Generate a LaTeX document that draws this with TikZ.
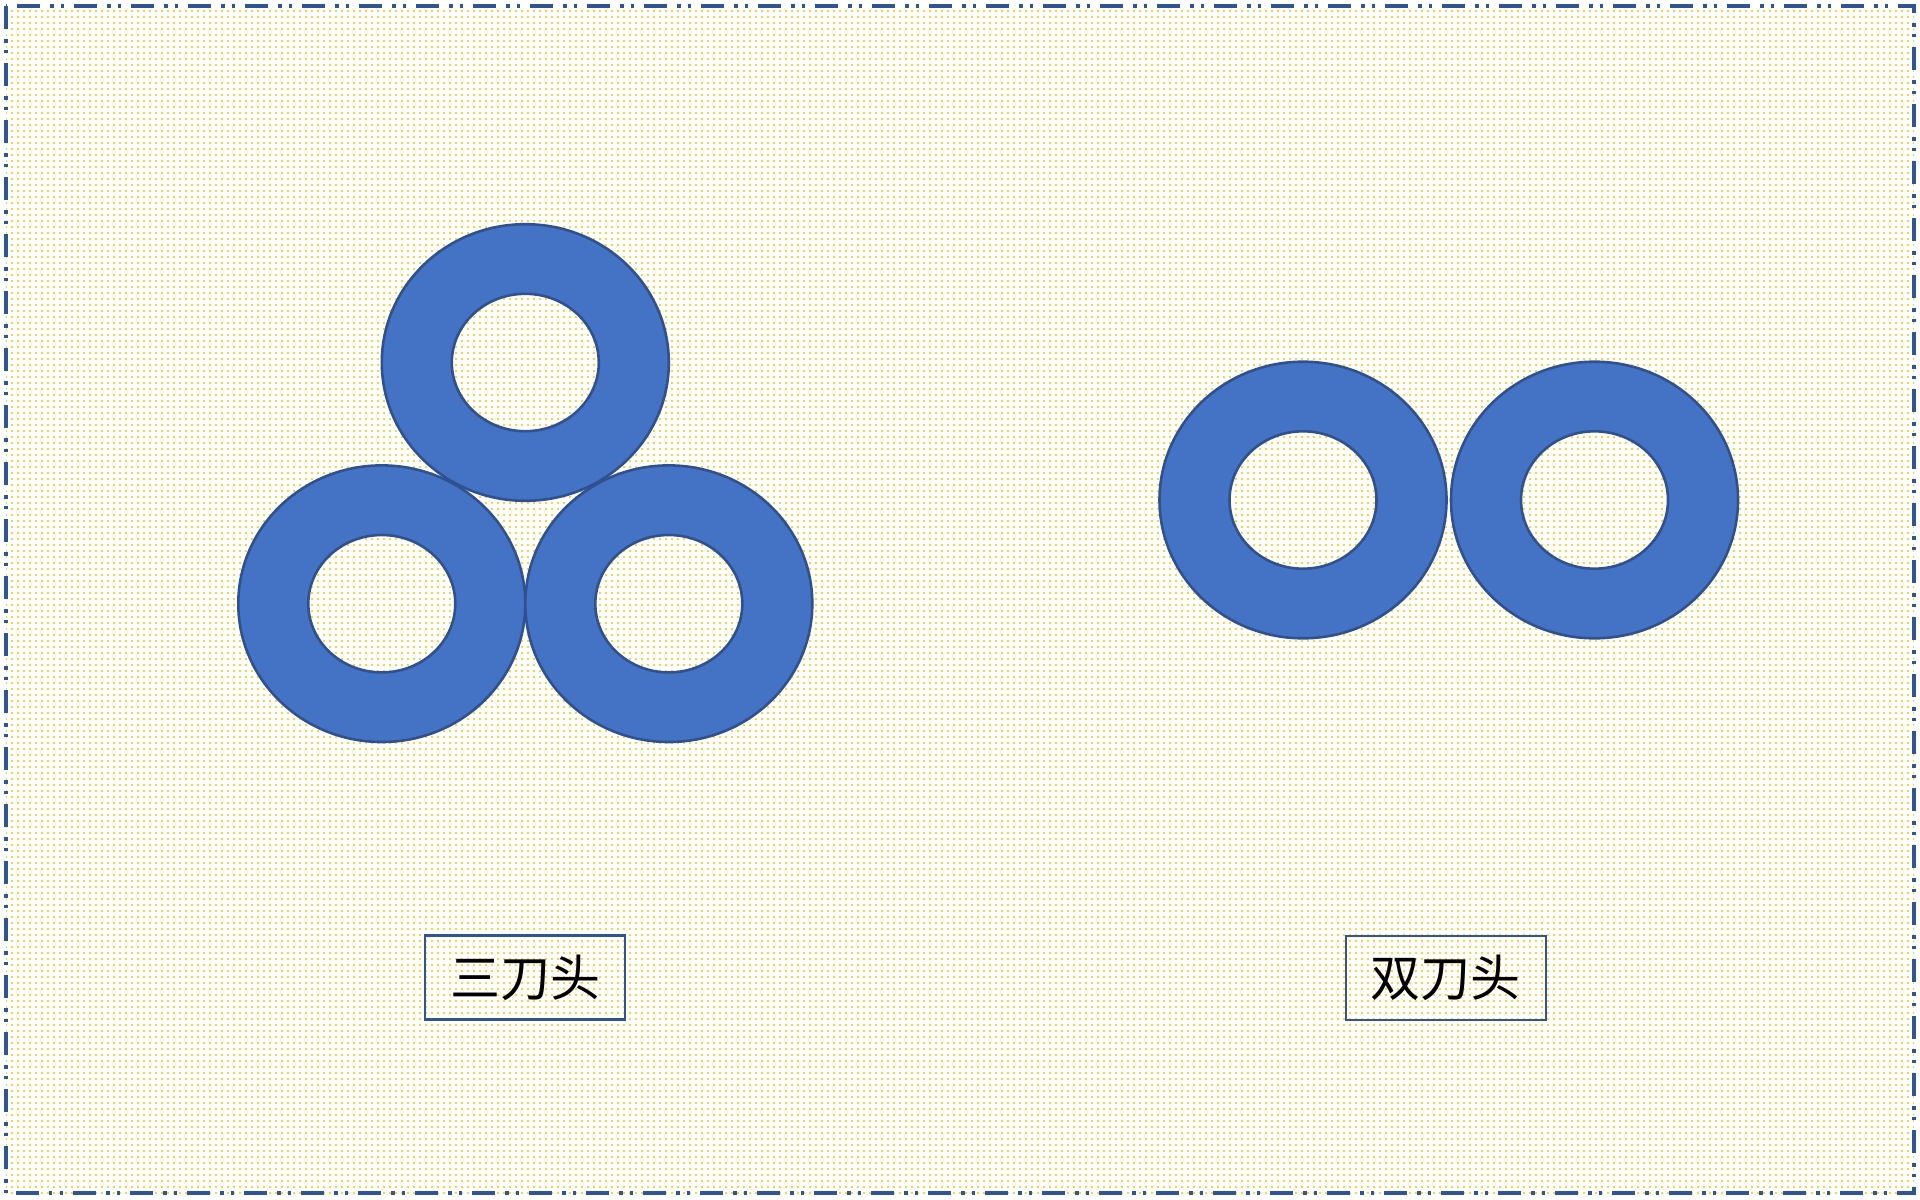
\documentclass[tikz,border=0pt]{standalone}
\usepackage{fontspec}
\newfontfamily\cjk{Noto Sans CJK SC}
\usetikzlibrary{patterns}
\definecolor{ringfill}{HTML}{4472C4}
\definecolor{ringline}{HTML}{2F528F}
\definecolor{framec}{HTML}{2F5597}
\definecolor{dotc}{HTML}{FFC000}
\pgfdeclarepatternformonly{bigdots}{\pgfqpoint{-1pt}{-1pt}}{\pgfqpoint{1pt}{1pt}}{\pgfqpoint{3pt}{3pt}}{\pgfpathcircle{\pgfqpoint{0pt}{0pt}}{0.55pt}\pgfusepath{fill}}
\begin{document}
\begin{tikzpicture}[x=0.5pt,y=-0.5pt,
  ring/.style={fill=ringfill,draw=ringline,line width=1.3pt,even odd rule},
  labelbox/.style={draw=framec,line width=1.25pt,minimum width=100pt,minimum height=42pt,inner sep=0pt,text=black,font=\cjk\fontsize{25}{30}\selectfont}]
\useasboundingbox (0,0) rectangle (1920,1199);
\fill[white] (0,0) rectangle (1920,1199);
\fill[pattern=bigdots,pattern color=dotc] (6,6) rectangle (1914,1193);
\draw[framec,line width=1.6pt,dash pattern=on 11.5pt off 5pt on 1.75pt off 3.5pt on 1.75pt off 5pt] (6,6) rectangle (1914,1193);
% ring centres
\coordinate (top) at (525.3,362.5);
\coordinate (bl) at (381.8,603.7);
\coordinate (br) at (668.8,603.7);
\coordinate (pl) at (1303,500);
\coordinate (pr) at (1594.5,500);
\foreach \c in {bl,br,top,pl,pr}{
  \path[ring] (\c) ellipse [x radius=71.75pt, y radius=69.15pt]
              (\c) ellipse [x radius=36.75pt, y radius=34.35pt];
}
\node[labelbox] (lab3) at (525,977.5) {三刀头};
\node[labelbox] (lab2) at (1445.8,978) {双刀头};
\end{tikzpicture}
\end{document}
